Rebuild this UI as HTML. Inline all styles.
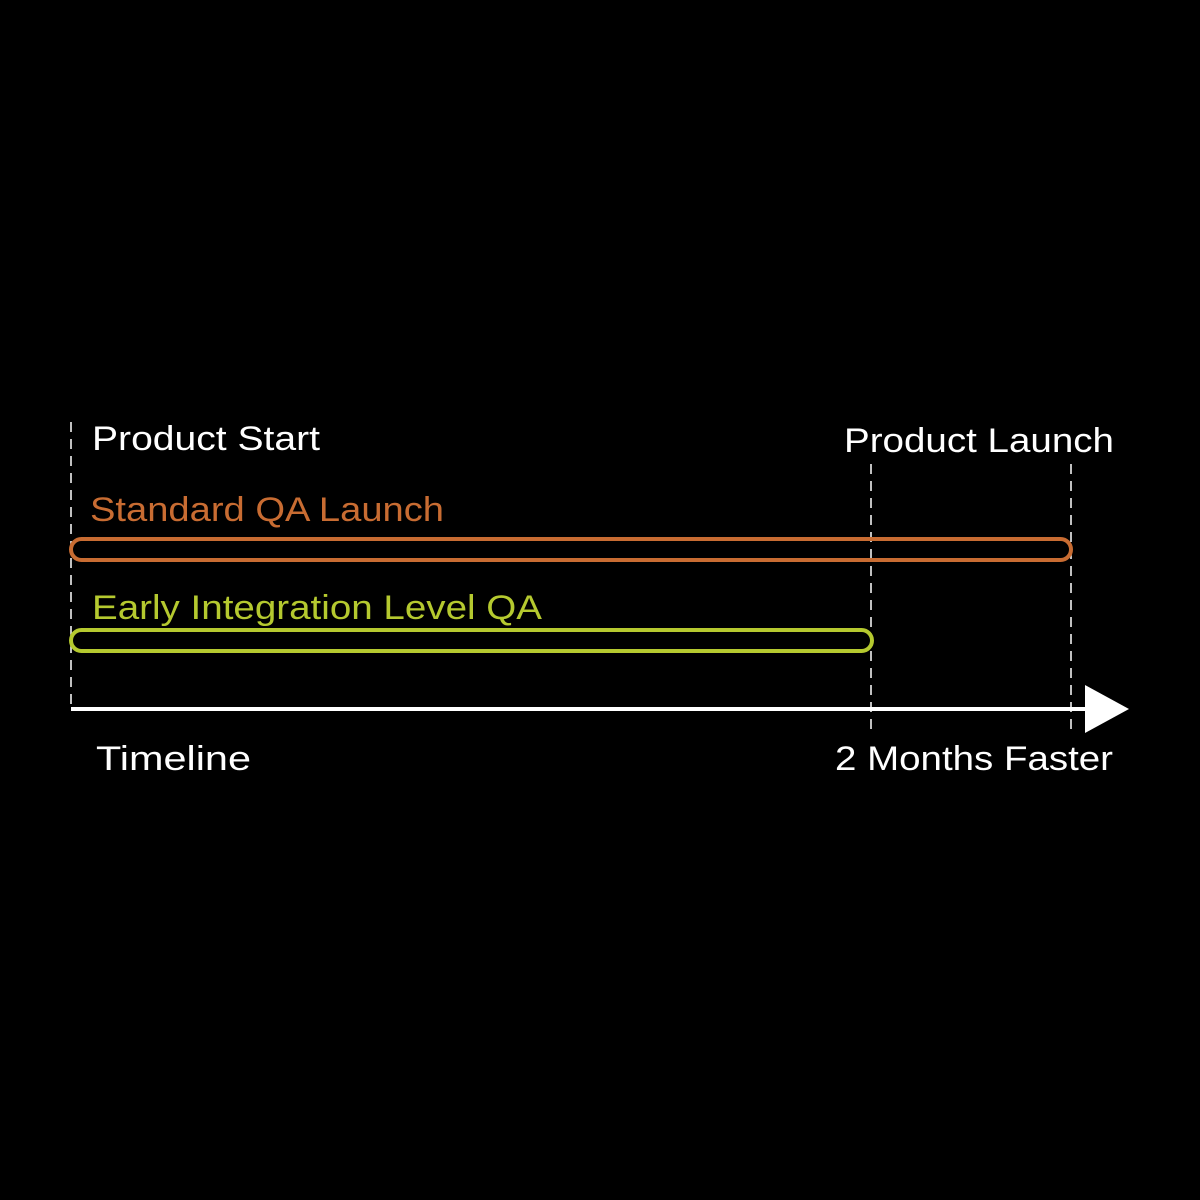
<!DOCTYPE html>
<html><head><style>html,body{margin:0;background:#000}</style></head><body>
<svg width="1200" height="1200" viewBox="0 0 1200 1200" xmlns="http://www.w3.org/2000/svg" style="display:block">
<rect width="1200" height="1200" fill="#000"/>
<g stroke="#fff" stroke-width="1.5" stroke-dasharray="10,7" fill="none">
<line x1="71" y1="422" x2="71" y2="708"/>
<line x1="871" y1="464" x2="871" y2="736"/>
<line x1="1071" y1="464" x2="1071" y2="736"/>
</g>
<line x1="71" y1="709" x2="1090" y2="709" stroke="#fff" stroke-width="4"/>
<polygon points="1085,685 1129,709 1085,733" fill="#fff"/>
<rect x="71" y="539" width="1000" height="21" rx="10.5" fill="none" stroke="#c86c32" stroke-width="4"/>
<rect x="71" y="630" width="801" height="21" rx="10.5" fill="none" stroke="#b5c92f" stroke-width="4"/>
<g font-family="Liberation Sans, sans-serif" font-size="34" fill="#fff">
<text x="92" y="450" textLength="228" lengthAdjust="spacingAndGlyphs">Product Start</text>
<text x="844" y="452" textLength="270" lengthAdjust="spacingAndGlyphs">Product Launch</text>
<text x="90" y="521" fill="#c86c32" textLength="354" lengthAdjust="spacingAndGlyphs">Standard QA Launch</text>
<text x="92" y="619" fill="#b5c92f" textLength="450" lengthAdjust="spacingAndGlyphs">Early Integration Level QA</text>
<text x="96" y="770" textLength="155" lengthAdjust="spacingAndGlyphs">Timeline</text>
<text x="835" y="770" textLength="278" lengthAdjust="spacingAndGlyphs">2 Months Faster</text>
</g>
</svg>
</body></html>
